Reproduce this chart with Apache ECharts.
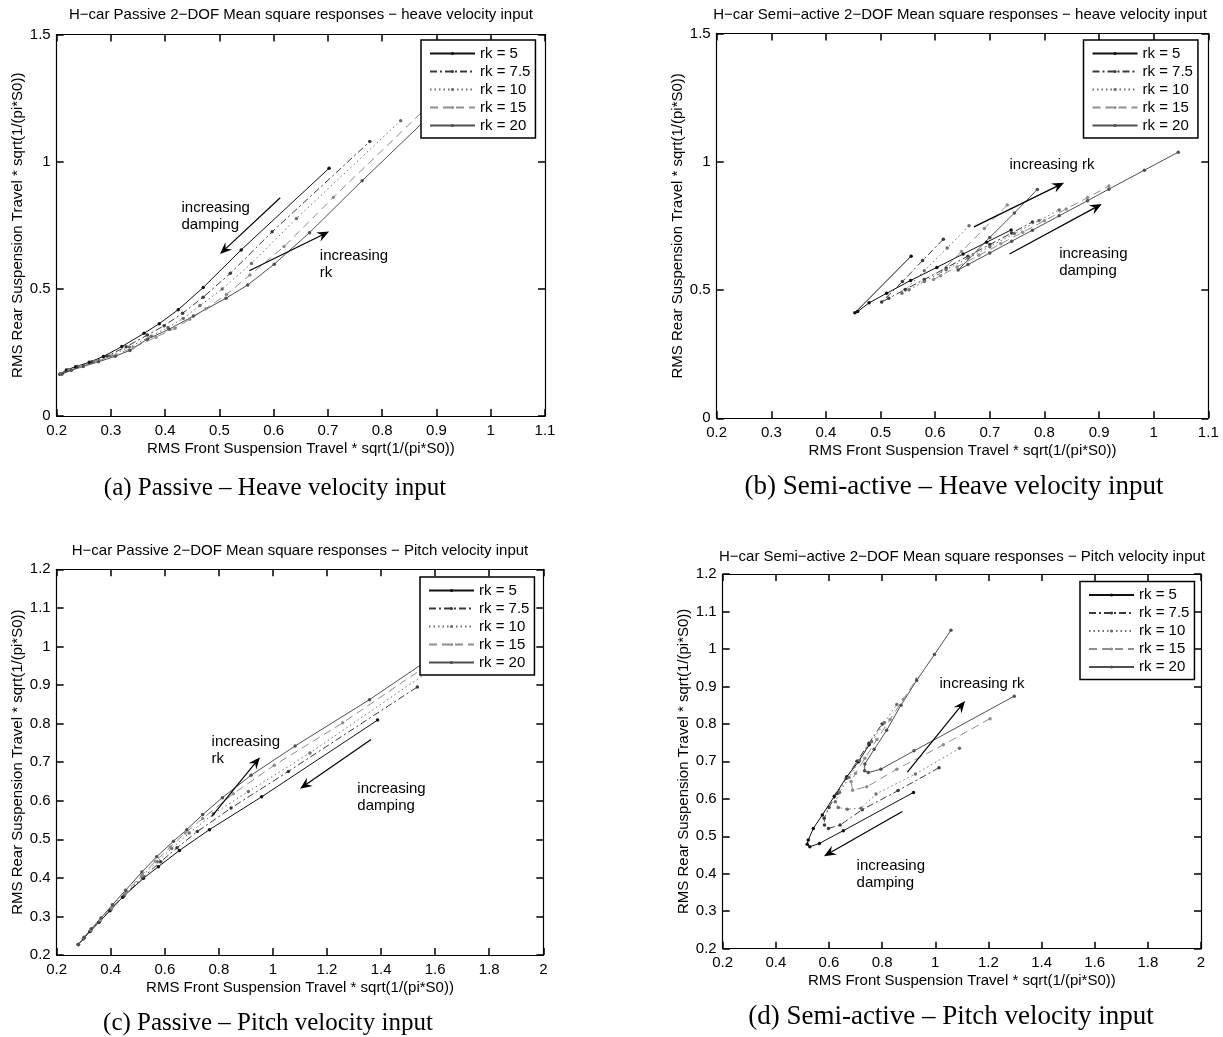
<!DOCTYPE html>
<html><head><meta charset="utf-8">
<script src="https://cdn.jsdelivr.net/npm/echarts@6/dist/echarts.min.js"></script>
<style>html,body{margin:0;padding:0;background:#fff}#c{width:1223px;height:1037px}</style>
</head><body><div id="c"></div>
<script>
// ---------- DATA ----------
const names = ['rk = 5', 'rk = 7.5', 'rk = 10', 'rk = 15', 'rk = 20'];

// (a) Passive - heave velocity input  [front RMS, rear RMS]
const aRk5  = [[0.206,0.164],[0.218,0.181],[0.235,0.194],[0.260,0.211],[0.286,0.234],[0.320,0.273],[0.361,0.325],[0.389,0.363],[0.424,0.418],[0.470,0.505],[0.540,0.653],[0.702,0.974]];
const aRk75 = [[0.207,0.165],[0.221,0.181],[0.239,0.195],[0.265,0.213],[0.293,0.236],[0.328,0.272],[0.367,0.318],[0.398,0.355],[0.432,0.404],[0.470,0.467],[0.520,0.561],[0.597,0.724],[0.777,1.079]];
const aRk10 = [[0.208,0.165],[0.223,0.181],[0.242,0.195],[0.269,0.214],[0.298,0.236],[0.334,0.271],[0.374,0.314],[0.405,0.348],[0.433,0.383],[0.464,0.434],[0.505,0.499],[0.559,0.600],[0.642,0.777],[0.834,1.161]];
const aRk15 = [[0.209,0.165],[0.225,0.180],[0.245,0.195],[0.273,0.214],[0.303,0.236],[0.341,0.269],[0.383,0.310],[0.418,0.345],[0.445,0.380],[0.475,0.422],[0.513,0.478],[0.556,0.554],[0.619,0.666],[0.710,0.860],[0.922,1.295]];
const aRk20 = [[0.210,0.165],[0.227,0.180],[0.249,0.195],[0.277,0.213],[0.308,0.235],[0.335,0.258],[0.367,0.302],[0.407,0.341],[0.452,0.393],[0.512,0.463],[0.552,0.515],[0.601,0.597],[0.666,0.721],[0.763,0.925],[0.990,1.390]];

// (b) Semi-active - heave velocity input
const bRk5  = [[0.556,0.632],[0.453,0.411],[0.458,0.416],[0.479,0.450],[0.511,0.487],[0.555,0.537],[0.603,0.588],[0.651,0.640],[0.694,0.686],[0.739,0.734]];
const bRk75 = [[0.615,0.698],[0.577,0.615],[0.540,0.533],[0.502,0.453],[0.515,0.468],[0.545,0.502],[0.580,0.541],[0.620,0.586],[0.660,0.632],[0.700,0.677],[0.740,0.722],[0.778,0.765]];
const bRk10 = [[0.662,0.750],[0.622,0.664],[0.580,0.575],[0.539,0.487],[0.552,0.501],[0.580,0.533],[0.620,0.579],[0.660,0.624],[0.700,0.669],[0.745,0.720],[0.790,0.771],[0.827,0.812]];
const bRk15 = [[0.732,0.831],[0.690,0.740],[0.648,0.650],[0.597,0.541],[0.610,0.556],[0.640,0.590],[0.680,0.635],[0.720,0.680],[0.760,0.725],[0.800,0.770],[0.840,0.816],[0.879,0.860],[0.918,0.905]];
const bRk20 = [[0.787,0.892],[0.745,0.800],[0.700,0.705],[0.642,0.578],[0.660,0.599],[0.700,0.644],[0.740,0.690],[0.778,0.733],[0.827,0.789],[0.879,0.848],[0.918,0.893],[0.983,0.967],[1.045,1.037]];

// (c) Passive - pitch velocity input
const cRk5  = [[0.280,0.227],[0.299,0.242],[0.323,0.261],[0.357,0.285],[0.397,0.315],[0.444,0.350],[0.521,0.399],[0.576,0.429],[0.654,0.471],[0.765,0.525],[0.958,0.610],[1.387,0.809]];
const cRk75 = [[0.280,0.227],[0.300,0.243],[0.325,0.262],[0.358,0.287],[0.400,0.318],[0.450,0.354],[0.520,0.402],[0.585,0.442],[0.645,0.478],[0.720,0.520],[0.845,0.581],[1.057,0.676],[1.534,0.895]];
const cRk10 = [[0.280,0.227],[0.300,0.244],[0.326,0.264],[0.360,0.289],[0.402,0.320],[0.452,0.357],[0.515,0.404],[0.572,0.442],[0.625,0.476],[0.690,0.516],[0.780,0.566],[0.909,0.624],[1.137,0.724],[1.680,0.985]];
const cRk15 = [[0.280,0.227],[0.301,0.245],[0.327,0.266],[0.362,0.292],[0.404,0.324],[0.455,0.362],[0.515,0.407],[0.565,0.443],[0.620,0.480],[0.675,0.516],[0.740,0.554],[0.853,0.618],[1.005,0.692],[1.258,0.802],[1.800,1.060]];
const cRk20 = [[0.280,0.227],[0.302,0.246],[0.328,0.268],[0.364,0.296],[0.406,0.330],[0.455,0.368],[0.515,0.415],[0.570,0.455],[0.632,0.495],[0.681,0.525],[0.740,0.564],[0.813,0.608],[0.919,0.666],[1.082,0.742],[1.357,0.862],[1.900,1.120]];

// (d) Semi-active - pitch velocity input
const dRk5  = [[0.918,0.617],[0.654,0.515],[0.564,0.481],[0.528,0.472],[0.518,0.479],[0.522,0.490],[0.541,0.521],[0.575,0.557],[0.620,0.607],[0.667,0.659],[0.711,0.699],[0.751,0.744]];
const dRk75 = [[1.014,0.683],[0.860,0.622],[0.725,0.571],[0.642,0.530],[0.598,0.521],[0.583,0.530],[0.582,0.548],[0.600,0.577],[0.630,0.614],[0.665,0.655],[0.705,0.700],[0.750,0.748],[0.800,0.800]];
const dRk10 = [[1.091,0.735],[0.925,0.666],[0.777,0.613],[0.721,0.575],[0.669,0.572],[0.635,0.577],[0.624,0.592],[0.640,0.617],[0.675,0.657],[0.715,0.702],[0.760,0.752],[0.808,0.803],[0.855,0.852]];
const dRk15 = [[1.206,0.814],[1.030,0.744],[0.855,0.679],[0.742,0.632],[0.689,0.623],[0.683,0.646],[0.700,0.668],[0.735,0.708],[0.780,0.758],[0.830,0.812],[0.880,0.866],[0.930,0.920]];
const dRk20 = [[1.297,0.874],[0.920,0.728],[0.795,0.679],[0.748,0.670],[0.734,0.675],[0.735,0.693],[0.770,0.732],[0.817,0.783],[0.871,0.850],[0.930,0.916],[0.997,0.985],[1.059,1.050]];

// axis ranges [min, max, interval]
const xRangeHeave = [0.2, 1.1, 0.1];
const yRangeHeave = [0, 1.5, 0.5];
const xRangePitch = [0.2, 2, 0.2];
const yRangePitch = [0.2, 1.2, 0.1];

const xName = 'RMS Front Suspension Travel * sqrt(1/(pi*S0))';
const yName = 'RMS Rear Suspension Travel * sqrt(1/(pi*S0))';

// ---------- STYLE / LAYOUT ----------
const SANS = '"Liberation Sans", Arial, Helvetica, sans-serif';
const SERIF = '"Liberation Serif", "Times New Roman", serif';
const styles = [
  {color:'#111111', type:'solid'},
  {color:'#3a3a3a', type:[7,3,2,3]},
  {color:'#6e6e6e', type:[1.5,3]},
  {color:'#8e8e8e', type:[8,5]},
  {color:'#505050', type:'solid'}
];

const panels = [
  { grid:{left:56.7, top:34.5, width:488.3, height:381.5}, x:xRangeHeave, y:yRangeHeave,
    series:[aRk5,aRk75,aRk10,aRk15,aRk20], legend:{left:421, top:40},
    title:{text:'H\u2212car Passive 2\u2212DOF Mean square responses \u2212 heave velocity input', x:301, y:15},
    caption:{text:'(a) Passive \u2013 Heave velocity input', x:275, y:488, size:25},
    arrows:[[[0.612,0.858],[0.501,0.637]], [[0.555,0.571],[0.702,0.725]]],
    notes:[{t:'increasing\ndamping', at:[0.430,0.853]}, {t:'increasing\nrk', at:[0.685,0.663]}] },
  { grid:{left:716.7, top:33.4, width:491.6, height:384.9}, x:xRangeHeave, y:yRangeHeave,
    series:[bRk5,bRk75,bRk10,bRk15,bRk20], legend:{left:1083.5, top:40},
    title:{text:'H\u2212car Semi\u2212active 2\u2212DOF Mean square responses \u2212 heave velocity input', x:960, y:15},
    caption:{text:'(b) Semi-active \u2013 Heave velocity input', x:954, y:487, size:27},
    arrows:[[[0.671,0.746],[0.836,0.918]], [[0.736,0.640],[0.905,0.835]]],
    notes:[{t:'increasing rk', at:[0.736,1.022]}, {t:'increasing\ndamping', at:[0.827,0.675]}] },
  { grid:{left:56.7, top:569.3, width:486.6, height:385.7}, x:xRangePitch, y:yRangePitch,
    series:[cRk5,cRk75,cRk10,cRk15,cRk20], legend:{left:420, top:577},
    title:{text:'H\u2212car Passive 2\u2212DOF Mean square responses \u2212 Pitch velocity input', x:300, y:551},
    caption:{text:'(c) Passive \u2013 Pitch velocity input', x:268, y:1023, size:25},
    arrows:[[[0.773,0.559],[0.952,0.713]], [[1.363,0.759],[1.100,0.631]]],
    notes:[{t:'increasing\nrk', at:[0.773,0.774]}, {t:'increasing\ndamping', at:[1.312,0.653]}] },
  { grid:{left:722.7, top:574, width:478.3, height:374.7}, x:xRangePitch, y:yRangePitch,
    series:[dRk5,dRk75,dRk10,dRk15,dRk20], legend:{left:1080, top:581.5},
    title:{text:'H\u2212car Semi\u2212active 2\u2212DOF Mean square responses \u2212 Pitch velocity input', x:962, y:557},
    caption:{text:'(d) Semi-active \u2013 Pitch velocity input', x:951, y:1017, size:27},
    arrows:[[[0.895,0.671],[1.112,0.861]], [[0.876,0.566],[0.581,0.447]]],
    notes:[{t:'increasing rk', at:[1.016,0.930]}, {t:'increasing\ndamping', at:[0.704,0.444]}] }
];

const chart = echarts.init(document.getElementById('c'), null, {renderer:'canvas'});
const option = {animation:false, backgroundColor:'#fff', grid:[], xAxis:[], yAxis:[], legend:[], series:[]};

function makeAxis(i, pos, mirror, rng, name, isX) {
  return {
    type:'value', gridIndex:i, position:pos, min:rng[0], max:rng[1], interval:rng[2],
    axisLine:{show:true, onZero:false, lineStyle:{color:'#000', width:1.2}},
    axisTick:{show:true, inside:true, length:7, lineStyle:{color:'#000', width:1.5}},
    axisLabel:{show:!mirror, color:'#000', fontSize:15, fontFamily:SANS, margin:isX ? 7 : 6},
    splitLine:{show:false},
    name: mirror ? '' : name, nameLocation:'middle', nameGap: isX ? 25 : 31,
    nameTextStyle:{color:'#000', fontSize:15, fontFamily:SANS}
  };
}

panels.forEach((p, i) => {
  option.grid.push(Object.assign({show:false}, p.grid));
  option.xAxis.push(makeAxis(i, 'bottom', false, p.x, xName, true), makeAxis(i, 'top', true, p.x, '', true));
  option.yAxis.push(makeAxis(i, 'left', false, p.y, yName, false), makeAxis(i, 'right', true, p.y, '', false));
  option.legend.push({
    data:names, orient:'vertical', left:p.legend.left, top:p.legend.top,
    itemWidth:45, itemHeight:4, itemGap:3, padding:[6,5,5,8],
    borderColor:'#000', borderWidth:1.5, backgroundColor:'#fff', selectedMode:false,
    textStyle:{color:'#000', fontSize:15, fontFamily:SANS}
  });
  p.series.forEach((d, j) => {
    option.series.push({
      type:'line', name:names[j], xAxisIndex:2*i, yAxisIndex:2*i, data:d,
      symbol:'circle', symbolSize:3.5, showSymbol:true, silent:true,
      lineStyle:{color:styles[j].color, width:1, type:styles[j].type},
      itemStyle:{color:styles[j].color}, z:2
    });
  });
});

chart.setOption(option);

const g = [];
panels.forEach((p, i) => {
  const conv = v => chart.convertToPixel({xAxisIndex:2*i, yAxisIndex:2*i}, v);
  p.arrows.forEach(a => {
    const s = conv(a[0]), t = conv(a[1]);
    const dx = t[0]-s[0], dy = t[1]-s[1], L = Math.hypot(dx, dy);
    const ux = dx/L, uy = dy/L, nx = -uy, ny = ux;
    const hl = 12, hw = 5;
    g.push({type:'line', silent:true, shape:{x1:s[0], y1:s[1], x2:t[0]-ux*6, y2:t[1]-uy*6},
            style:{stroke:'#000', lineWidth:1.2}, z:10});
    g.push({type:'polygon', silent:true, shape:{points:[
      [t[0], t[1]],
      [t[0]-ux*hl+nx*hw, t[1]-uy*hl+ny*hw],
      [t[0]-ux*hl*0.65, t[1]-uy*hl*0.65],
      [t[0]-ux*hl-nx*hw, t[1]-uy*hl-ny*hw]
    ]}, style:{fill:'#000'}, z:10});
  });
  p.notes.forEach(n => {
    const q = conv(n.at);
    g.push({type:'text', silent:true, x:q[0], y:q[1], z:10,
      style:{text:n.t, font:'15px ' + SANS, fill:'#000', lineHeight:17,
             align:'left', verticalAlign:'top', textAlign:'left', textVerticalAlign:'top'}});
  });
  g.push({type:'text', silent:true, x:p.title.x, y:p.title.y, z:10,
    style:{text:p.title.text, font:'15px ' + SANS, fill:'#000',
           align:'center', verticalAlign:'middle', textAlign:'center', textVerticalAlign:'middle'}});
  g.push({type:'text', silent:true, x:p.caption.x, y:p.caption.y, z:10,
    style:{text:p.caption.text, font:p.caption.size + 'px ' + SERIF, fill:'#000',
           align:'center', verticalAlign:'middle', textAlign:'center', textVerticalAlign:'middle'}});
});
chart.setOption({graphic:g});
</script></body></html>
